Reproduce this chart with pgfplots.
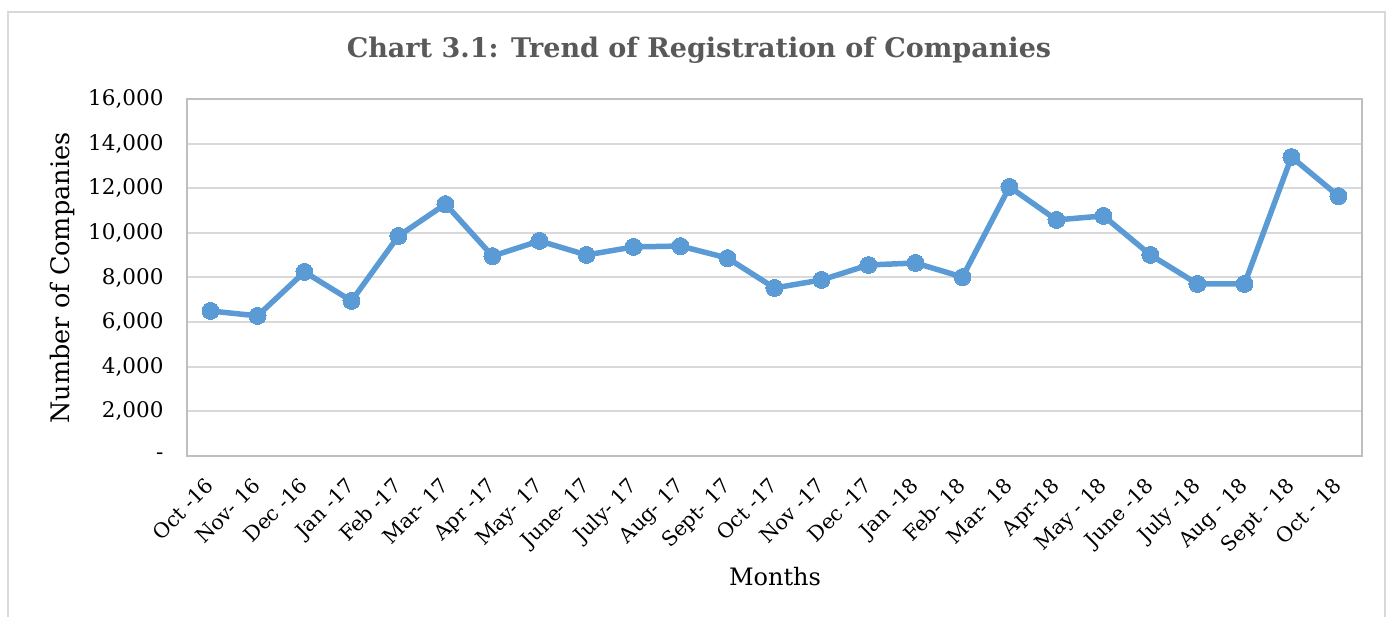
\documentclass[border=0pt]{standalone}
\usepackage{pgfplots}
\pgfplotsset{compat=1.18}
\usepackage{fontspec}
\setmainfont{DejaVu Serif}
\definecolor{series}{HTML}{5B9BD5}
\definecolor{titlegray}{HTML}{595959}
\definecolor{gridgray}{HTML}{D9D9D9}
\definecolor{framegray}{HTML}{BFBFBF}
\begin{document}
\begin{tikzpicture}[x=1pt,y=1pt]
\path[use as bounding box] (0,0) rectangle (1397,617);
\draw[color=gray!30, line width=2pt] (8,-10) -- (8,605) -- (1385,605) -- (1385,-10);
\node[font=\bfseries\fontsize{27}{27}\selectfont, text=titlegray] at (699,567) {Chart 3.1: Trend of Registration of Companies};
\node[font=\fontsize{25.5}{25.5}\selectfont, rotate=90] at (62,339) {Number of Companies};
\node[font=\fontsize{24}{24}\selectfont] at (775,40) {Months};
\begin{axis}[
  at={(187pt,161pt)}, anchor=south west,
  scale only axis, width=1175pt, height=357pt,
  xmin=-0.5, xmax=24.5, ymin=0, ymax=16000,
  axis line style={draw=framegray, line width=1.8pt},
  ymajorgrids, grid style={draw=gridgray, line width=2pt},
  xtick={0,...,24}, major tick length=0pt,
  xticklabels={Oct -16, Nov- 16, Dec -16, Jan -17, Feb -17, Mar- 17, Apr -17, May- 17, June- 17, July- 17, Aug- 17, Sept- 17, Oct -17, Nov -17, Dec -17, Jan -18, Feb- 18, Mar- 18, Apr-18, May - 18, June -18, July -18, Aug - 18, Sept - 18, Oct - 18},
  xticklabel style={rotate=45, anchor=north east, font=\fontsize{20.5}{20.5}\selectfont, yshift=-6.5pt, xshift=-15.5pt},
  ytick={0,2000,...,16000},
  yticklabels={-\hspace{26pt}, {2,000}, {4,000}, {6,000}, {8,000}, {10,000}, {12,000}, {14,000}, {16,000}},
  yticklabel style={font=\fontsize{21.5}{21.5}\selectfont, xshift=-20pt},
  scaled y ticks=false,
]
\addplot[color=series, line width=5.5pt, mark=*, mark size=8.5pt, mark options={fill=series, draw=series, line width=0pt}] coordinates {
(0,6500) (1,6280) (2,8250) (3,6950) (4,9860) (5,11290) (6,8960) (7,9640) (8,9010) (9,9370) (10,9410) (11,8870) (12,7530) (13,7890) (14,8560) (15,8650) (16,8020) (17,12060) (18,10580) (19,10760) (20,9010) (21,7710) (22,7710) (23,13400) (24,11650)
};
\end{axis}
\end{tikzpicture}
\end{document}
